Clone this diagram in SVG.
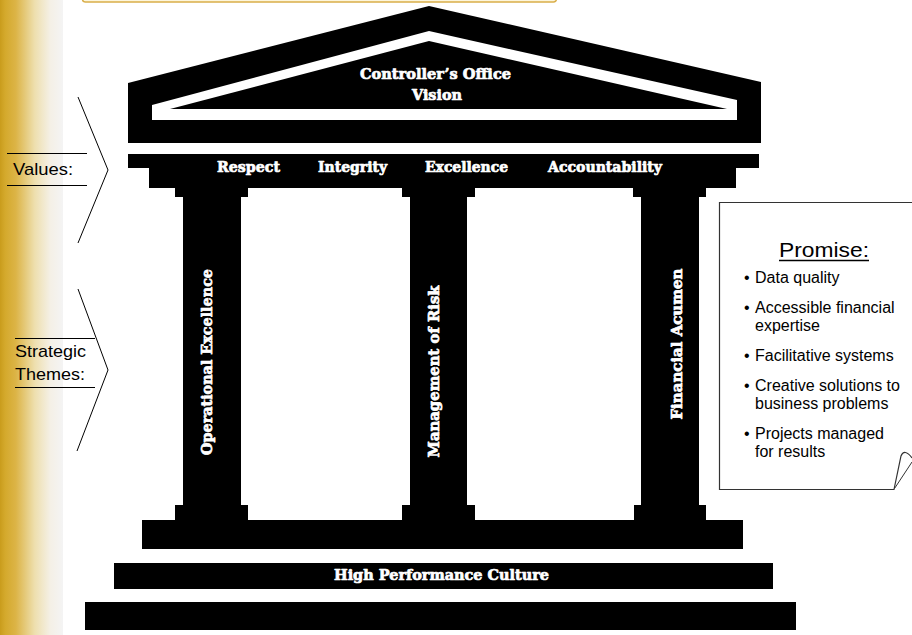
<svg xmlns="http://www.w3.org/2000/svg" width="912" height="635" viewBox="0 0 912 635">
  <defs>
    <linearGradient id="goldEdge" x1="0" y1="0" x2="1" y2="0">
      <stop offset="0" stop-color="#c99c1c"/>
      <stop offset="0.08" stop-color="#d4a92c"/>
      <stop offset="0.25" stop-color="#dcb446"/>
      <stop offset="0.55" stop-color="#eedfae"/>
      <stop offset="0.8" stop-color="#f4f0e6"/>
      <stop offset="1" stop-color="#f4f4f4"/>
    </linearGradient>
  </defs>
  <style>
    .stone { fill: #000; }
    .engrave { font-family: "DejaVu Serif", "Liberation Serif", serif; font-weight: bold; fill: #fff; stroke: #fff; stroke-width: 0.7; stroke-linejoin: round; }
    .label { font-family: "Liberation Sans", Arial, sans-serif; fill: #000; }
    .rule { stroke: #000; stroke-width: 1; fill: none; }
    .brace { stroke: #000; stroke-width: 1; fill: none; }
  </style>

  <rect x="0" y="0" width="912" height="635" fill="#fff"/>
  <!-- gold edge strip on the left -->
  <rect x="0" y="0" width="63" height="635" fill="url(#goldEdge)"/>
  <!-- title bar edge at the top -->
  <rect x="82.5" y="-12" width="474" height="14" rx="3" fill="#fdf6dc" stroke="#d9ae4a" stroke-width="1.5"/>

  <!-- pediment -->
  <g id="roof">
    <polygon class="stone" points="128,83 429,6 761,82 761,143 128,143"/>
    <polygon fill="#fff" points="152,105 429,31 737,100 737,120 152,120"/>
    <polygon class="stone" points="170,109 429,41 727,109"/>
    <text class="engrave" x="435.5" y="79" font-size="15" text-anchor="middle" textLength="151" lengthAdjust="spacingAndGlyphs">Controller’s Office</text>
    <text class="engrave" x="437" y="100" font-size="15" text-anchor="middle" textLength="50" lengthAdjust="spacingAndGlyphs">Vision</text>
  </g>

  <!-- entablature with the values -->
  <g id="entablature">
    <rect class="stone" x="128" y="154" width="631" height="14"/>
    <rect class="stone" x="149" y="167" width="587" height="21"/>
    <text class="engrave" x="248.5" y="172" font-size="15" text-anchor="middle" textLength="63" lengthAdjust="spacingAndGlyphs">Respect</text>
    <text class="engrave" x="352.5" y="172" font-size="15" text-anchor="middle" textLength="69" lengthAdjust="spacingAndGlyphs">Integrity</text>
    <text class="engrave" x="466.5" y="172" font-size="15" text-anchor="middle" textLength="83" lengthAdjust="spacingAndGlyphs">Excellence</text>
    <text class="engrave" x="605" y="172" font-size="15" text-anchor="middle" textLength="114" lengthAdjust="spacingAndGlyphs">Accountability</text>
  </g>

  <!-- columns -->
  <g id="column-operational">
    <rect class="stone" x="175" y="187" width="73" height="10"/>
    <rect class="stone" x="183" y="196" width="58" height="311"/>
    <rect class="stone" x="175" y="505" width="73" height="16"/>
    <text class="engrave" font-size="15" text-anchor="middle" textLength="186" lengthAdjust="spacingAndGlyphs" transform="translate(212,362) rotate(-90)">Operational Excellence</text>
  </g>
  <g id="column-risk">
    <rect class="stone" x="402" y="187" width="73" height="10"/>
    <rect class="stone" x="410" y="196" width="57" height="311"/>
    <rect class="stone" x="402" y="505" width="73" height="16"/>
    <text class="engrave" font-size="15" text-anchor="middle" textLength="172" lengthAdjust="spacingAndGlyphs" transform="translate(439,371.5) rotate(-90)">Management of Risk</text>
  </g>
  <g id="column-acumen">
    <rect class="stone" x="633" y="187" width="73" height="10"/>
    <rect class="stone" x="641" y="196" width="58" height="311"/>
    <rect class="stone" x="634" y="505" width="72" height="16"/>
    <text class="engrave" font-size="15" text-anchor="middle" textLength="151" lengthAdjust="spacingAndGlyphs" transform="translate(682,344) rotate(-90)">Financial Acumen</text>
  </g>

  <!-- steps -->
  <g id="plinth">
    <rect class="stone" x="142" y="520" width="601" height="29"/>
  </g>
  <g id="culture">
    <rect class="stone" x="114" y="563" width="659" height="26"/>
    <text class="engrave" x="441.5" y="580" font-size="15" text-anchor="middle" textLength="215" lengthAdjust="spacingAndGlyphs">High Performance Culture</text>
  </g>
  <g id="foundation">
    <rect class="stone" x="85" y="602" width="711" height="28"/>
  </g>

  <!-- side labels -->
  <g id="values-label">
    <line class="rule" x1="7" y1="153.5" x2="87" y2="153.5"/>
    <line class="rule" x1="7" y1="185.5" x2="87" y2="185.5"/>
    <text class="label" x="13" y="175" font-size="17" textLength="60" lengthAdjust="spacingAndGlyphs">Values:</text>
  </g>
  <g id="themes-label">
    <line class="rule" x1="15" y1="338.5" x2="95" y2="338.5"/>
    <line class="rule" x1="15" y1="387.5" x2="95" y2="387.5"/>
    <text class="label" x="15" y="357" font-size="17" textLength="71" lengthAdjust="spacingAndGlyphs">Strategic</text>
    <text class="label" x="15" y="380" font-size="17" textLength="70" lengthAdjust="spacingAndGlyphs">Themes:</text>
  </g>

  <!-- promise page with curled corner -->
  <g id="promise">
    <path d="M719.5,202.5 H920 V489.5 H719.5 Z" fill="#fff"/>
    <path d="M920,202.5 H719.5 V489.5 H894 L901,456 C903,451 907,451 912,458" fill="none" stroke="#333" stroke-width="1.2"/>
    <path d="M894.5,488.5 L912,462" fill="none" stroke="#333" stroke-width="1"/>
    <text class="label" x="824" y="257" font-size="21" text-anchor="middle" textLength="90" lengthAdjust="spacingAndGlyphs">Promise:</text>
    <line x1="779" y1="260.5" x2="869" y2="260.5" stroke="#000" stroke-width="1.5"/>
    <g class="label" font-size="16">
      <text x="744" y="282.5">•</text>
      <text x="755" y="282.5">Data quality</text>
      <text x="744" y="313">•</text>
      <text x="755" y="313">Accessible financial</text>
      <text x="755" y="331">expertise</text>
      <text x="744" y="361">•</text>
      <text x="755" y="361">Facilitative systems</text>
      <text x="744" y="391">•</text>
      <text x="755" y="391">Creative solutions to</text>
      <text x="755" y="409">business problems</text>
      <text x="744" y="439">•</text>
      <text x="755" y="439">Projects managed</text>
      <text x="755" y="457">for results</text>
    </g>
  </g>

  <!-- brackets pointing at the values and the themes -->
  <g id="connectors">
    <polyline class="brace" points="78,97 108,170 78,243"/>
    <polyline class="brace" points="78,289 108,370 77,451"/>
  </g>
</svg>
